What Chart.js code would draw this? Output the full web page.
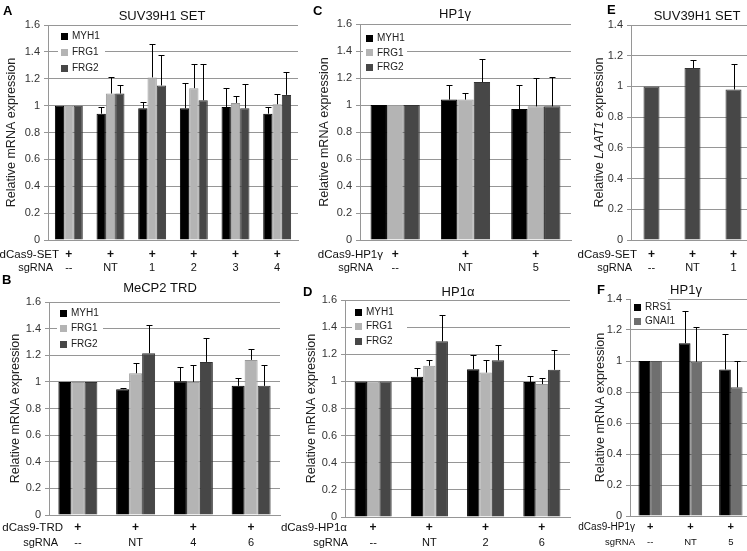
<!DOCTYPE html>
<html>
<head>
<meta charset="utf-8">
<script src="https://cdn.jsdelivr.net/npm/chart.js@4.4.1/dist/chart.umd.min.js"></script>
<style>
  html, body { margin: 0; padding: 0; background: #fff; width: 747px; height: 551px; overflow: hidden; position: relative; }
  canvas { position: absolute; }
</style>
</head>
<body>
<canvas id="pA"></canvas>
<canvas id="pB"></canvas>
<canvas id="pC"></canvas>
<canvas id="pD"></canvas>
<canvas id="pE"></canvas>
<canvas id="pF"></canvas>
<script>
// ---- data ----
// A: SUV39H1 SET
const sgA = ["--", "NT", "1", "2", "3", "4"];
const myh1A = [1, 0.94, 0.98, 0.98, 0.99, 0.94];
const myh1ErrA = [0, 0.05, 0.05, 0.19, 0.14, 0.05];
const frg1A = [1, 1.09, 1.21, 1.13, 1.02, 1.01];
const frg1ErrA = [0, 0.12, 0.25, 0.18, 0.05, 0.08];
const frg2A = [1, 1.09, 1.15, 1.04, 0.98, 1.08];
const frg2ErrA = [0, 0.06, 0.23, 0.27, 0.18, 0.17];

// B: MeCP2 TRD
const sgB = ["--", "NT", "4", "6"];
const myh1B = [1, 0.945, 1.005, 0.97];
const myh1ErrB = [0, 0.01, 0.105, 0.06];
const frg1B = [1, 1.065, 1.0, 1.165];
const frg1ErrB = [0, 0.075, 0.125, 0.08];
const frg2B = [1, 1.215, 1.15, 0.97];
const frg2ErrB = [0, 0.215, 0.18, 0.16];

// C: HP1gamma
const sgC = ["--", "NT", "5"];
const myh1C = [1, 1.04, 0.97];
const myh1ErrC = [0, 0.11, 0.18];
const frg1C = [1, 1.04, 0.99];
const frg1ErrC = [0, 0.05, 0.21];
const frg2C = [1, 1.17, 0.99];
const frg2ErrC = [0, 0.17, 0.22];

// D: HP1alpha
const sgD = ["--", "NT", "2", "6"];
const myh1D = [1, 1.035, 1.09, 0.995];
const myh1ErrD = [0, 0.06, 0.105, 0.045];
const frg1D = [1, 1.115, 1.065, 0.98];
const frg1ErrD = [0, 0.045, 0.095, 0.045];
const frg2D = [1, 1.295, 1.155, 1.085];
const frg2ErrD = [0, 0.195, 0.11, 0.15];

// E: LAAT1, SUV39H1 SET
const sgE = ["--", "NT", "1"];
const laat1E = [1, 1.12, 0.98];
const laat1ErrE = [0, 0.055, 0.165];

// F: HP1gamma, RRS1 / GNAI1
const sgF = ["--", "NT", "5"];
const rrs1F = [1, 1.115, 0.945];
const rrs1ErrF = [0, 0.21, 0.23];
const gnai1F = [1, 0.995, 0.83];
const gnai1ErrF = [0, 0.225, 0.17];

const ticks16 = 1.6, ticks14 = 1.4;

const FONT = "'Liberation Sans', Arial, sans-serif";
const GRID = "#969696";
const C_MYH1 = "#000000", C_FRG1 = "#b4b4b4", C_FRG2 = "#474747", C_GNAI1 = "#6f6f6f";

function ds(label, data, err, color, border) {
  return { label, data, err, backgroundColor: color, borderColor: border, borderWidth: 1 };
}

function panel(id, box, area, labels, yMax, catPct, sets, deco) {
  const cv = document.getElementById(id);
  cv.width = box.w;
  cv.height = box.h;
  cv.style.left = box.x + "px";
  cv.style.top = box.y + "px";

  const decoPlugin = {
    id: "deco" + id,
    afterDatasetsDraw(chart) {
      const ctx = chart.ctx, ys = chart.scales.y;
      ctx.save();
      ctx.strokeStyle = "#000";
      ctx.lineWidth = 1;
      sets.forEach((s, di) => {
        const meta = chart.getDatasetMeta(di);
        s.err.forEach((e, i) => {
          if (!e) return;
          const bx = Math.round(meta.data[i].x) + 0.5;
          const y0 = ys.getPixelForValue(s.data[i]);
          const y1 = Math.round(ys.getPixelForValue(s.data[i] + e)) + 0.5;
          ctx.beginPath();
          ctx.moveTo(bx, y0);
          ctx.lineTo(bx, y1);
          ctx.moveTo(bx - 3, y1);
          ctx.lineTo(bx + 3, y1);
          ctx.stroke();
        });
      });
      ctx.restore();
    },
    afterDraw(chart) {
      const ctx = chart.ctx, xs = chart.scales.x, ca = chart.chartArea;
      ctx.save();
      ctx.translate(-box.x, -box.y);
      ctx.textBaseline = "middle";
      ctx.fillStyle = "#000";

      // panel letter
      ctx.font = "bold 13px " + FONT;
      ctx.textAlign = "left";
      ctx.fillText(deco.letter, deco.lx, deco.ly);

      // title
      ctx.font = "13px " + FONT;
      ctx.textAlign = "center";
      ctx.fillStyle = "#111";
      ctx.fillText(deco.title, deco.tx, deco.ty);

      // y axis title (may contain italic parts)
      ctx.save();
      ctx.translate(deco.yx, box.y + (ca.top + ca.bottom) / 2);
      ctx.rotate(-Math.PI / 2);
      ctx.fillStyle = "#222";
      ctx.textAlign = "left";
      let tot = 0;
      deco.ytitle.forEach(s => {
        ctx.font = (s.i ? "italic " : "") + "12.5px " + FONT;
        tot += ctx.measureText(s.t).width;
      });
      let px = -tot / 2;
      deco.ytitle.forEach(s => {
        ctx.font = (s.i ? "italic " : "") + "12.5px " + FONT;
        ctx.fillText(s.t, px, 0);
        px += ctx.measureText(s.t).width;
      });
      ctx.restore();

      // legend inside the plot
      if (deco.leg) {
        const L = deco.leg;
        const n = sets.length;
        ctx.fillStyle = "#fff";
        ctx.fillRect(L.x - 3, L.y - 8, L.right - L.x + 3, L.dy * (n - 1) + 16);
        ctx.font = L.size + "px " + FONT;
        ctx.textAlign = "left";
        sets.forEach((s, i) => {
          const yy = L.y + i * L.dy;
          ctx.fillStyle = s.backgroundColor;
          ctx.fillRect(L.x, Math.round(yy - 3.5), 7, 7);
          ctx.fillStyle = "#222";
          ctx.fillText(s.label, L.x + 11, yy);
        });
      }

      // construct / sgRNA rows below the axis
      const R = deco.rows;
      ctx.fillStyle = "#111";
      ctx.textAlign = "right";
      ctx.font = R.f1 + "px " + FONT;
      ctx.fillText(R.name, R.nx, R.y1);
      ctx.font = R.f2 + "px " + FONT;
      ctx.fillText("sgRNA", R.sx, R.y2);
      ctx.textAlign = "center";
      labels.forEach((lab, i) => {
        const x = box.x + xs.getPixelForTick(i);
        ctx.font = "bold " + R.fp + "px " + FONT;
        ctx.fillText("+", x, R.y1);
        ctx.font = R.f2 + "px " + FONT;
        ctx.fillText(lab, x, R.y2);
      });
      ctx.restore();
    }
  };

  new Chart(cv, {
    type: "bar",
    data: { labels, datasets: sets },
    options: {
      responsive: false,
      animation: false,
      events: [],
      layout: { padding: { left: 0, top: area.t - box.y, right: box.x + box.w - area.r, bottom: 0 } },
      datasets: { bar: { categoryPercentage: catPct, barPercentage: 1 } },
      plugins: { legend: { display: false }, tooltip: { enabled: false }, title: { display: false } },
      scales: {
        x: {
          grid: { display: false },
          border: { color: GRID },
          ticks: { display: false },
          afterFit: s => { s.height = box.y + box.h - area.b; }
        },
        y: {
          min: 0,
          max: yMax,
          ticks: {
            stepSize: 0.2,
            padding: 4,
            color: "#333",
            font: { family: FONT, size: 11 },
            callback: v => String(Math.round(v * 10) / 10)
          },
          grid: { color: GRID, tickLength: 4 },
          border: { color: GRID },
          afterFit: s => { s.width = area.l - box.x; }
        }
      }
    },
    plugins: [decoPlugin]
  });
}

const yMrna = [{ t: "Relative mRNA expression" }];

panel("pA", { x: 0, y: 0, w: 302, h: 276 }, { l: 48, t: 25, r: 298, b: 240 }, sgA, ticks16, 0.67, [
  ds("MYH1", myh1A, myh1ErrA, C_MYH1, "#000"),
  ds("FRG1", frg1A, frg1ErrA, C_FRG1, "#999"),
  ds("FRG2", frg2A, frg2ErrA, C_FRG2, "#333")
], {
  letter: "A", lx: 3, ly: 11, title: "SUV39H1 SET", tx: 162, ty: 16, ytitle: yMrna, yx: 12,
  leg: { x: 61, y: 36, dy: 16.3, right: 105, size: 10 },
  rows: { name: "dCas9-SET", nx: 59, sx: 53, y1: 255, y2: 268, f1: 11.5, f2: 11, fp: 12 }
});

panel("pB", { x: 0, y: 266, w: 285, h: 285 }, { l: 49, t: 302, r: 280, b: 515 }, sgB, ticks16, 0.675, [
  ds("MYH1", myh1B, myh1ErrB, C_MYH1, "#000"),
  ds("FRG1", frg1B, frg1ErrB, C_FRG1, "#999"),
  ds("FRG2", frg2B, frg2ErrB, C_FRG2, "#333")
], {
  letter: "B", lx: 2, ly: 280, title: "MeCP2 TRD", tx: 160, ty: 288, ytitle: yMrna, yx: 16,
  leg: { x: 60, y: 313, dy: 15.5, right: 103, size: 10 },
  rows: { name: "dCas9-TRD", nx: 63, sx: 58, y1: 528, y2: 543, f1: 11.5, f2: 11, fp: 12 }
});

panel("pC", { x: 300, y: 0, w: 275, h: 276 }, { l: 360, t: 24, r: 571, b: 240 }, sgC, ticks16, 0.70, [
  ds("MYH1", myh1C, myh1ErrC, C_MYH1, "#000"),
  ds("FRG1", frg1C, frg1ErrC, C_FRG1, "#999"),
  ds("FRG2", frg2C, frg2ErrC, C_FRG2, "#333")
], {
  letter: "C", lx: 313, ly: 11, title: "HP1\u03b3", tx: 455, ty: 14, ytitle: yMrna, yx: 325,
  leg: { x: 366, y: 38.3, dy: 14.5, right: 407, size: 10 },
  rows: { name: "dCas9-HP1\u03b3", nx: 383, sx: 373, y1: 255, y2: 268, f1: 11.5, f2: 11, fp: 12 }
});

panel("pD", { x: 278, y: 276, w: 297, h: 275 }, { l: 345, t: 300, r: 570, b: 517 }, sgD, ticks16, 0.66, [
  ds("MYH1", myh1D, myh1ErrD, C_MYH1, "#000"),
  ds("FRG1", frg1D, frg1ErrD, C_FRG1, "#999"),
  ds("FRG2", frg2D, frg2ErrD, C_FRG2, "#333")
], {
  letter: "D", lx: 303, ly: 292, title: "HP1\u03b1", tx: 458, ty: 292, ytitle: yMrna, yx: 312,
  leg: { x: 355, y: 312, dy: 14.7, right: 407, size: 10 },
  rows: { name: "dCas9-HP1\u03b1", nx: 347, sx: 348, y1: 528, y2: 543, f1: 11.5, f2: 11, fp: 12 }
});

panel("pE", { x: 560, y: 0, w: 200, h: 276 }, { l: 631, t: 25, r: 754, b: 240 }, sgE, ticks14, 0.39, [
  ds("LAAT1", laat1E, laat1ErrE, C_FRG2, "#333")
], {
  letter: "E", lx: 607, ly: 10, title: "SUV39H1 SET", tx: 697, ty: 16,
  ytitle: [{ t: "Relative " }, { t: "LAAT1", i: true }, { t: " expression" }], yx: 600,
  leg: null,
  rows: { name: "dCas9-SET", nx: 637, sx: 632, y1: 255, y2: 268, f1: 11.5, f2: 11, fp: 12 }
});

panel("pF", { x: 560, y: 276, w: 200, h: 275 }, { l: 630, t: 299, r: 751, b: 516 }, sgF, ticks14, 0.58, [
  ds("RRS1", rrs1F, rrs1ErrF, C_MYH1, "#000"),
  ds("GNAI1", gnai1F, gnai1ErrF, C_GNAI1, "#555")
], {
  letter: "F", lx: 597, ly: 290, title: "HP1\u03b3", tx: 686, ty: 290, ytitle: yMrna, yx: 601,
  leg: { x: 634, y: 307, dy: 14, right: 668, size: 10 },
  rows: { name: "dCas9-HP1\u03b3", nx: 635, sx: 635, y1: 527, y2: 542, f1: 10, f2: 9.5, fp: 11 }
});
</script>
</body>
</html>
